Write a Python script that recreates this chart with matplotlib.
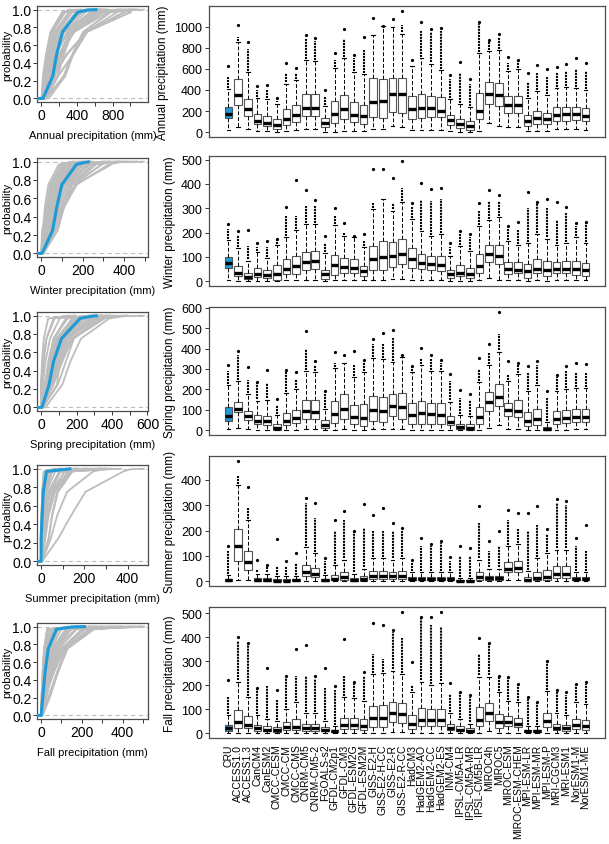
import numpy as np
import matplotlib
matplotlib.use("Agg")
import matplotlib.pyplot as plt

plt.rcParams['font.family'] = ['Liberation Sans', 'DejaVu Sans']

#%% data
models = ["CRU", "ACCESS1.0", "ACCESS1.3", "CanCM4", "CanESM2", "CMCC-CESM", "CMCC-CM",
          "CMCC-CMS", "CNRM-CM5", "CNRM-CM5-2", "FGOALS-s2", "GFDL-CM2p1", "GFDL-CM3",
          "GFDL-ESM2G", "GFDL-ESM2M", "GISS-E2-H", "GISS-E2-H-CC", "GISS-E2-R",
          "GISS-E2-R-CC", "HadCM3", "HadGEM2-AO", "HadGEM2-CC", "HadGEM2-ES", "INM-CM4",
          "IPSL-CM5A-LR", "IPSL-CM5A-MR", "IPSL-CM5B-LR", "MIROC4h", "MIROC5", "MIROC-ESM",
          "MIROC-ESM-CHEM", "MPI-ESM-LR", "MPI-ESM-MR", "MPI-ESM-P", "MRI-CGCM3",
          "MRI-ESM1", "NorESM1-M", "NorESM1-ME"]

seasons = ["Annual", "Winter", "Spring", "Summer", "Fall"]

# box stats per season (mm): lower quartile, median, upper quartile, whisker ends,
# end of the dense run of outliers, largest outlier
ann_q1 = [130,260,150,75,55,30,70,95,155,150,50,90,120,100,75,140,130,190,185,125,130,145,140,65,35,20,120,270,250,185,180,60,80,75,110,110,115,105]
ann_med = [175,355,215,110,90,65,125,160,230,225,85,170,220,165,150,285,295,360,365,220,230,230,205,115,75,55,200,360,350,255,255,105,135,120,165,170,170,155]
ann_q3 = [240,500,315,170,150,120,220,255,365,360,130,300,355,290,260,510,505,515,515,345,365,345,330,165,125,105,375,475,470,345,345,165,205,185,235,240,240,225]
ann_lo = [20,50,30,10,10,5,10,20,30,30,5,5,10,10,10,30,30,55,45,20,20,20,20,10,5,5,15,85,55,45,45,10,15,15,30,30,30,25]
ann_hi = [410,850,570,320,310,270,460,495,680,670,250,610,700,570,550,920,1005,995,935,625,700,650,590,315,265,235,750,765,780,580,595,320,390,350,420,430,420,400]
ann_run = [520,900,790,400,400,300,560,560,880,860,330,680,880,700,780,920,1005,995,1020,625,960,950,960,500,560,460,1030,860,900,660,680,480,560,520,560,580,600,580]
ann_top = [630,1020,850,440,450,320,660,610,920,890,400,750,975,735,900,1080,1005,1075,1150,680,1045,975,985,540,665,500,1040,875,935,710,685,560,640,600,620,650,700,660]

win_q1 = [55,20,8,18,12,5,28,30,48,50,10,25,35,35,20,45,45,60,70,55,50,45,40,15,20,12,35,80,70,30,32,15,35,20,35,35,25,20]
win_med = [75,35,18,30,25,30,50,62,80,82,28,65,60,55,40,92,100,102,110,92,75,72,68,30,35,28,62,110,105,50,48,40,52,45,52,52,52,45]
win_q3 = [100,62,35,55,45,65,90,102,122,125,48,108,95,90,62,145,165,162,172,135,110,105,105,45,65,55,112,148,148,80,78,72,92,82,80,82,85,75]
win_lo = [5,2,0,2,2,0,5,5,5,5,0,3,5,5,3,5,5,8,8,5,5,5,5,2,2,2,5,12,5,3,3,2,3,2,3,3,3,3]
win_hi = [170,135,85,120,95,150,180,210,235,235,115,230,185,180,140,295,340,290,325,255,205,185,195,105,145,125,225,250,265,165,150,155,195,175,150,155,180,155]
win_run = [215,190,145,140,140,170,270,270,310,310,155,270,200,185,165,320,340,320,385,305,335,330,340,140,195,180,290,330,330,215,210,300,320,300,250,280,225,240]
win_top = [235,205,210,155,165,175,305,415,375,335,185,300,240,185,195,460,460,425,495,320,405,380,385,155,205,195,320,375,355,225,245,365,325,340,325,305,240,245]

spr_q1 = [45,90,50,30,25,0,25,35,55,55,10,35,55,30,20,45,40,70,55,30,30,30,30,25,5,0,30,95,120,70,65,20,25,0,30,35,40,40]
spr_med = [70,105,70,45,45,10,45,60,95,90,25,80,105,65,60,100,95,120,115,75,85,80,75,40,15,10,65,140,165,100,95,45,55,5,55,60,65,65]
spr_q3 = [115,140,95,75,70,30,85,100,150,150,50,145,175,125,130,170,165,175,180,135,145,135,135,70,30,30,115,185,225,135,150,90,105,15,95,100,105,105]
spr_lo = [5,10,5,3,3,0,3,3,5,5,0,3,5,3,2,5,5,8,5,3,3,3,3,2,0,0,3,10,25,8,8,2,2,0,3,3,5,5]
spr_hi = [220,240,175,145,150,75,180,200,290,285,105,305,330,260,285,355,350,335,360,285,320,290,290,140,75,70,235,320,385,240,275,190,220,40,190,200,205,205]
spr_run = [290,370,245,230,230,125,290,250,400,320,175,330,330,320,335,420,420,450,370,310,350,350,330,240,160,150,300,380,470,270,320,280,320,160,260,290,280,280]
spr_top = [320,390,310,235,295,155,295,285,485,340,190,385,370,390,345,445,475,490,370,315,405,370,345,275,195,175,355,420,580,340,330,315,340,190,270,315,330,325]

sum_q1 = [0,80,45,0,0,0,0,0,20,15,0,5,5,0,2,10,10,10,10,3,3,3,3,5,0,0,5,5,5,35,35,0,5,5,12,12,3,3]
sum_med = [5,140,75,5,5,2,2,3,35,30,5,10,15,5,8,22,22,20,22,8,8,8,8,10,2,2,15,12,12,50,52,5,12,15,28,28,8,8]
sum_q3 = [10,205,120,12,12,8,8,8,65,52,10,25,35,12,20,40,40,38,40,15,15,15,15,18,5,5,35,22,22,75,78,15,35,45,60,58,15,15]
sum_lo = [0,5,5,0,0,0,0,0,2,2,0,0,0,0,0,0,0,0,0,0,0,0,0,0,0,0,0,0,0,5,5,0,0,0,0,0,0,0]
sum_hi = [25,380,240,30,30,20,20,20,135,110,25,65,85,30,50,90,90,85,90,35,35,35,35,35,12,12,85,50,50,140,145,40,90,110,125,125,35,35]
sum_run = [120,415,290,50,60,60,60,70,310,250,80,200,240,200,210,200,200,200,200,70,140,140,150,80,100,100,230,120,140,240,205,200,220,185,310,300,140,120]
sum_top = [140,475,370,85,65,165,80,110,330,310,90,240,275,200,305,260,290,230,210,85,170,145,160,95,140,130,295,160,200,280,270,270,295,205,325,315,170,220]

fal_q1 = [10,20,20,10,8,5,12,12,10,10,8,3,18,18,15,25,25,45,42,18,28,28,28,12,8,5,30,50,20,30,25,3,3,25,12,10,18,15]
fal_med = [20,45,35,20,15,12,25,25,20,20,15,8,35,35,30,65,65,85,80,40,55,55,55,22,15,10,55,85,45,45,40,8,8,50,22,20,35,30]
fal_q3 = [35,95,70,35,28,25,48,58,40,40,25,15,62,65,60,115,118,130,125,75,105,100,100,40,28,20,110,125,80,70,65,15,15,85,40,35,60,55]
fal_lo = [0,2,2,0,0,0,0,0,0,0,0,0,0,0,0,2,2,5,5,0,2,2,2,0,0,0,2,8,2,2,2,0,0,2,0,0,0,0]
fal_hi = [75,215,150,75,60,50,100,130,85,85,50,30,150,145,135,245,250,260,245,170,215,200,210,85,60,40,235,235,170,135,130,30,30,175,85,75,130,120]
fal_run = [150,385,370,185,195,140,230,240,240,225,190,180,240,210,240,330,310,420,395,200,480,450,440,165,170,150,330,370,240,230,200,145,125,290,170,160,200,205]
fal_top = [220,400,375,190,270,180,240,350,365,240,270,195,390,215,255,460,450,430,505,295,485,485,505,210,170,160,395,375,240,235,205,150,130,300,180,170,205,215]

stats = {
    "Annual": (ann_q1, ann_med, ann_q3, ann_lo, ann_hi, ann_run, ann_top),
    "Winter": (win_q1, win_med, win_q3, win_lo, win_hi, win_run, win_top),
    "Spring": (spr_q1, spr_med, spr_q3, spr_lo, spr_hi, spr_run, spr_top),
    "Summer": (sum_q1, sum_med, sum_q3, sum_lo, sum_hi, sum_run, sum_top),
    "Fall": (fal_q1, fal_med, fal_q3, fal_lo, fal_hi, fal_run, fal_top),
}

cdf_ticks = {"Annual": (200, 1000, 400), "Winter": (100, 500, 200), "Spring": (100, 600, 200),
             "Summer": (100, 400, 200), "Fall": (100, 500, 200)}
box_ticks = {"Annual": (200, 1000), "Winter": (100, 500), "Spring": (100, 600),
             "Summer": (100, 400), "Fall": (100, 500)}

# probability level attached to each box statistic for the cdf panels
cdf_prob = [0.0, 0.25, 0.5, 0.75, 0.97, 0.995, 1.0]

#%% layout
BLUE = '#1e9bd7'
GREY = '#bdbdbd'
FRAME = '#4d4d4d'
W, H = 609, 845
left_rows = [(7, 103), (159, 258), (313, 412), (466, 566), (624, 720)]
right_rows = [(7, 138), (157, 287), (308, 436), (457, 587), (608, 739)]


def pos(x0, y0, x1, y1):
    return [x0 / W, 1 - y1 / H, (x1 - x0) / W, (y1 - y0) / H]


def style_axes(ax):
    for s in ax.spines.values():
        s.set_color(FRAME)
        s.set_linewidth(0.9)
    ax.tick_params(direction='out', length=3, width=0.7, color='#333333')


fig = plt.figure(figsize=(6.09, 8.45), dpi=100)
n = len(models)
xpos = np.arange(1, n + 1)

for r, season in enumerate(seasons):
    q1, med, q3, lo, hi, run, top = [np.array(a, dtype=float) for a in stats[season]]
    dmax = top.max()
    lims = (-0.04 * dmax, 1.04 * dmax)

    # ---- cdf panel
    ax = fig.add_axes(pos(37, left_rows[r][0], 148, left_rows[r][1]))
    style_axes(ax)
    ax.axhline(0, color=GREY, ls=(0, (4, 3)), lw=0.8, zorder=1)
    ax.axhline(1, color=GREY, ls=(0, (4, 3)), lw=0.8, zorder=1)
    for i in range(n - 1, -1, -1):
        xs = [lims[0], lo[i], q1[i], med[i], q3[i], hi[i], run[i], top[i]]
        ys = [0.0] + cdf_prob
        if i == 0:
            ax.plot(xs, ys, color=BLUE, lw=2.2, zorder=5, solid_capstyle='butt')
        else:
            ax.plot(xs, ys, color=GREY, lw=1.3, zorder=2)
    ax.set_xlim(lims)
    ax.set_ylim(-0.04, 1.04)
    step, tmax, lstep = cdf_ticks[season]
    tk = np.arange(0, tmax + 1, step)
    ax.set_xticks(tk)
    ax.set_xticklabels([str(int(t)) if t % lstep == 0 else '' for t in tk], fontsize=10)
    ax.set_yticks(np.arange(0, 1.01, 0.2))
    ax.set_yticklabels(['%.1f' % v for v in np.arange(0, 1.01, 0.2)], fontsize=10)
    ax.tick_params(axis='both', pad=1)
    ax.set_ylabel('probability', fontsize=8, labelpad=0)
    ax.set_xlabel('%s precipitation (mm)' % season, fontsize=8, labelpad=6)

    # ---- box panel
    bx = fig.add_axes(pos(209, right_rows[r][0], 605, right_rows[r][1]))
    style_axes(bx)
    bstats = [dict(med=med[i], q1=q1[i], q3=q3[i], whislo=lo[i], whishi=hi[i], fliers=[])
              for i in range(n)]
    res = bx.bxp(bstats, positions=xpos, widths=0.8, patch_artist=True, showfliers=False,
                 boxprops=dict(facecolor='white', edgecolor='#555555', linewidth=0.8),
                 medianprops=dict(color='black', linewidth=2.4, solid_capstyle='butt'),
                 whiskerprops=dict(color='black', linestyle=(0, (4, 2)), linewidth=0.7),
                 capprops=dict(color='black', linewidth=0.8))
    res['boxes'][0].set_facecolor(BLUE)
    # outliers: dense stack then the isolated extreme
    m = run > hi
    bx.vlines(xpos[m], hi[m] + 0.01 * dmax, run[m], colors='black',
              linestyles=(0, (1.0, 0.45)), linewidth=1.5, zorder=3)
    bx.plot(xpos, top, ls='none', marker='o', ms=1.3, color='black', zorder=3)
    bx.set_xlim(0.5 - 0.04 * n, n + 0.5 + 0.04 * n)
    bx.set_ylim(lims)
    ystep, ymax = box_ticks[season]
    bx.set_yticks(np.arange(0, ymax + 1, ystep))
    bx.tick_params(axis='y', labelsize=9, pad=2)
    bx.set_ylabel('%s precipitation (mm)' % season, fontsize=8.5, labelpad=4)
    if r == len(seasons) - 1:
        bx.set_xticks(xpos)
        bx.set_xticklabels(models, rotation=90, fontsize=7.5)
        bx.tick_params(axis='x', length=0, pad=4)
    else:
        bx.set_xticks([])

fig.savefig('out.png', dpi=100)
